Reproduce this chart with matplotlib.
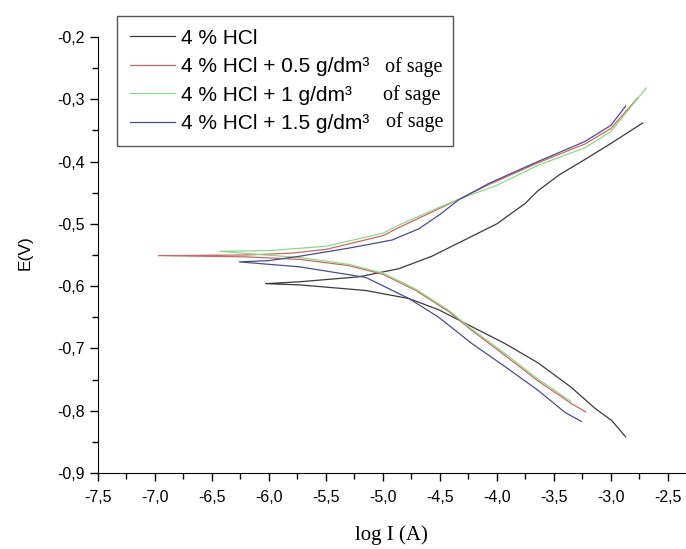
import matplotlib
matplotlib.use("Agg")
import matplotlib.pyplot as plt
from matplotlib.ticker import MultipleLocator, FuncFormatter

# log I (A) and E (V), cathodic end -> tip -> anodic end
hcl_x = [-2.87, -2.99, -3.14, -3.35, -3.64, -3.93, -4.22, -4.51, -4.77, -5.15, -5.73, -6.03,
         -5.73, -5.21, -4.86, -4.57, -4.34, -4.00, -3.75, -3.64, -3.45, -3.23, -3.00, -2.72]
hcl_e = [-0.842, -0.816, -0.796, -0.762, -0.723, -0.692, -0.665, -0.638, -0.620, -0.607, -0.598, -0.596,
         -0.593, -0.585, -0.572, -0.552, -0.531, -0.500, -0.467, -0.447, -0.421, -0.397, -0.371, -0.338]

s05_x = [-3.22, -3.35, -3.64, -3.93, -4.22, -4.42, -4.71, -5.00, -5.30, -5.73, -6.20, -6.97,
         -6.20, -5.80, -5.50, -5.00, -4.86, -4.50, -4.34, -4.07, -3.64, -3.23, -3.00, -2.76]
s05_e = [-0.802, -0.788, -0.752, -0.711, -0.671, -0.641, -0.607, -0.581, -0.567, -0.557, -0.553, -0.551,
         -0.550, -0.547, -0.541, -0.519, -0.506, -0.475, -0.461, -0.437, -0.402, -0.372, -0.347, -0.297]

s1_x = [-3.35, -3.64, -3.93, -4.22, -4.42, -4.71, -5.00, -5.30, -5.73, -6.10, -6.43,
        -6.00, -5.50, -5.00, -4.86, -4.50, -4.34, -4.00, -3.64, -3.23, -3.00, -2.69]
s1_e = [-0.785, -0.749, -0.708, -0.669, -0.639, -0.605, -0.579, -0.565, -0.554, -0.549, -0.544,
        -0.543, -0.536, -0.515, -0.502, -0.473, -0.461, -0.438, -0.406, -0.378, -0.352, -0.282]

s15_x = [-3.26, -3.40, -3.64, -3.93, -4.22, -4.51, -4.77, -5.15, -5.73, -6.00, -6.26,
         -6.00, -5.73, -5.30, -4.92, -4.685, -4.50, -4.34, -4.07, -3.64, -3.23, -3.00, -2.87]
s15_e = [-0.817, -0.803, -0.767, -0.729, -0.692, -0.650, -0.620, -0.586, -0.569, -0.565, -0.561,
         -0.559, -0.552, -0.539, -0.526, -0.508, -0.485, -0.462, -0.435, -0.400, -0.368, -0.342, -0.311]

labels = ["4 % HCl", "4 % HCl + 0.5 g/dm\u00b3", "4 % HCl + 1 g/dm\u00b3", "4 % HCl + 1.5 g/dm\u00b3"]
colors = ["#3a3a3a", "#c46a62", "#8fd68a", "#4a4c8c"]

fig = plt.figure(figsize=(6.86, 5.49), dpi=100)
ax = fig.add_axes([98 / 686, 1 - 473 / 549, 588 / 686, 436 / 549])

series = [(hcl_x, hcl_e), (s05_x, s05_e), (s1_x, s1_e), (s15_x, s15_e)]
for (xs, es), lab, col in zip(series, labels, colors):
    ax.plot(xs, es, color=col, lw=0.9, label=lab)

ax.set_xlim(-7.5, -2.34)
ax.set_ylim(-0.9, -0.2)
ax.spines["top"].set_visible(False)
ax.spines["right"].set_visible(False)
ax.xaxis.set_major_locator(MultipleLocator(0.5))
ax.xaxis.set_minor_locator(MultipleLocator(0.25))
ax.yaxis.set_major_locator(MultipleLocator(0.1))
ax.yaxis.set_minor_locator(MultipleLocator(0.05))
comma = FuncFormatter(lambda v, p: f"{v:.1f}".replace(".", ","))
ax.xaxis.set_major_formatter(comma)
ax.yaxis.set_major_formatter(comma)
ax.tick_params(which="major", direction="out", length=6, width=1, labelsize=11.5)
ax.tick_params(which="minor", direction="out", length=4, width=1)
ax.tick_params(axis="x", which="major", pad=6)
ax.tick_params(axis="y", which="major", pad=3.5)
for t in ax.get_xticklabels() + ax.get_yticklabels():
    t.set_fontfamily("Liberation Sans")

fig.text(25 / 686, 1 - 253 / 549, "E(V)", rotation=90, ha="center", va="center",
         family="Liberation Sans", fontsize=12.5)
fig.text(391 / 686, 1 - 535 / 549, "log I (A)", ha="center", va="center",
         family="Liberation Serif", fontsize=15)

leg = ax.legend(loc="upper left", bbox_to_anchor=(117 / 686, 1 - 146 / 549, 336 / 686, 130 / 549),
                bbox_transform=fig.transFigure, mode="expand", borderaxespad=0,
                prop={"family": "Liberation Sans", "size": 15}, handlelength=2.2,
                handletextpad=0.25, labelspacing=0.46, borderpad=0.6,
                fancybox=False, edgecolor="#555555", framealpha=1)
leg.get_frame().set_linewidth(1.0)

sage_pos = [(385, 67), (383, 95), (386, 122)]
for px, py in sage_pos:
    fig.text(px / 686, 1 - py / 549, "of sage", ha="left", va="center",
             family="Liberation Serif", fontsize=14.5)

fig.savefig("out.png", dpi=100)
